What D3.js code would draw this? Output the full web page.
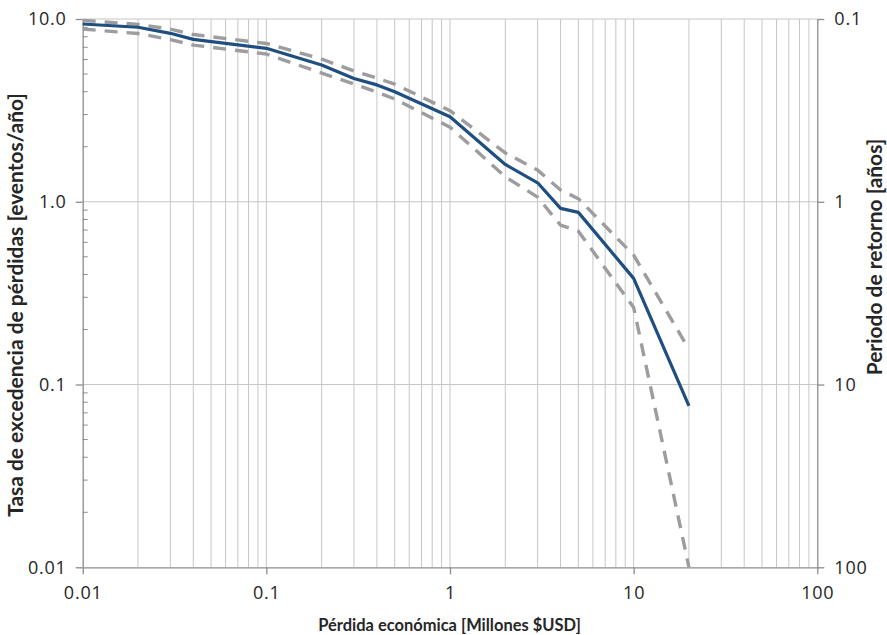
<!DOCTYPE html>
<html>
<head>
<meta charset="utf-8">
<script src="https://cdn.jsdelivr.net/npm/d3@7"></script>
<style>
  body { margin: 0; background: #ffffff; }
  .tick-label { font-family: "Open Sans", sans-serif; font-size: 18px; letter-spacing: 0.8px; fill: #262626; }
  .axis-title { font-family: Lato, "Open Sans", sans-serif; font-weight: bold; fill: #262626; }
</style>
</head>
<body>
<svg id="chart" width="887" height="635"></svg>
<script>
// Economic loss [millions USD]
const losses = [0.01, 0.02, 0.03, 0.04, 0.1, 0.2, 0.3, 0.4, 0.5, 1, 2, 3, 4, 5, 10, 20];
// Loss exceedance rate [events/year]: expected curve and its bounds
const rateMean  = [9.39, 9.01, 8.35, 7.74, 6.91, 5.60, 4.73, 4.36, 4.00, 2.92, 1.60, 1.27, 0.92, 0.875, 0.381, 0.0764];
const rateUpper = [9.83, 9.35, 8.81, 8.22, 7.35, 6.04, 5.19, 4.75, 4.40, 3.15, 1.85, 1.49, 1.16, 1.04, 0.51, 0.156];
const rateLower = [8.81, 8.33, 7.72, 7.20, 6.43, 5.06, 4.41, 3.98, 3.65, 2.56, 1.37, 1.06, 0.745, 0.69, 0.264, 0.01];

const xTicks = [0.01, 0.1, 1, 10, 100];
const xTickLabels = ["0.01", "0.1", "1", "10", "100"];
const yTicks = [0.01, 0.1, 1, 10];
const yTickLabels = ["0.01", "0.1", "1.0", "10.0"];
const periodTicks = [0.1, 1, 10, 100];
const periodTickLabels = ["0.1", "1", "10", "100"];

const xTitle = "Pérdida económica [Millones $USD]";
const yTitle = "Tasa de excedencia de pérdidas [eventos/año]";
const y2Title = "Periodo de retorno [años]";

const svg = d3.select("#chart");
const plotLeft = 82.7, plotRight = 817.3, plotTop = 19, plotBottom = 567.3;

const x = d3.scaleLog().domain([0.01, 100]).range([plotLeft, plotRight]);
const y = d3.scaleLog().domain([0.01, 10]).range([plotBottom, plotTop]);
// return period = 1 / rate
const yPeriod = d3.scaleLog().domain([100, 0.1]).range([plotBottom, plotTop]);

const gridColor = "#c6c6c6";
const axisColor = "#8c8c8c";

// vertical grid lines at every log step
svg.append("g").selectAll("line")
  .data(x.ticks().filter(v => v > 0.01 && v < 100))
  .join("line")
  .attr("x1", d => x(d)).attr("x2", d => x(d))
  .attr("y1", plotTop).attr("y2", plotBottom)
  .attr("stroke", gridColor).attr("stroke-width", 1);

// horizontal grid lines at decades
svg.append("g").selectAll("line")
  .data(yTicks.filter(v => v > 0.01))
  .join("line")
  .attr("x1", plotLeft).attr("x2", plotRight)
  .attr("y1", d => y(d)).attr("y2", d => y(d))
  .attr("stroke", gridColor).attr("stroke-width", 1);

// bottom axis
const xAxis = svg.append("g")
  .attr("transform", `translate(0,${plotBottom})`)
  .call(d3.axisBottom(x).tickValues(xTicks).tickFormat((d, i) => xTickLabels[i]).tickSize(7).tickSizeOuter(0).tickPadding(12));

// left axis with inward minor ticks
const yAxis = svg.append("g")
  .attr("transform", `translate(${plotLeft},0)`)
  .call(d3.axisLeft(y).tickValues(yTicks).tickFormat((d, i) => yTickLabels[i]).tickSize(7).tickSizeOuter(0).tickPadding(9));

svg.append("g").selectAll("line")
  .data(y.ticks().filter(v => !yTicks.includes(v)))
  .join("line")
  .attr("x1", plotLeft).attr("x2", plotLeft + 5)
  .attr("y1", d => y(d)).attr("y2", d => y(d))
  .attr("stroke", axisColor).attr("stroke-width", 1);

// right axis: return period
const y2Axis = svg.append("g")
  .attr("transform", `translate(${plotRight},0)`)
  .call(d3.axisRight(yPeriod).tickValues(periodTicks).tickFormat((d, i) => periodTickLabels[i]).tickSize(7).tickSizeOuter(0).tickPadding(10));

[xAxis, yAxis, y2Axis].forEach(g => {
  g.attr("font-size", null).attr("font-family", null);
  g.select(".domain").attr("stroke", axisColor).attr("stroke-width", 1.3);
  g.selectAll(".tick line").attr("stroke", axisColor).attr("stroke-width", 1.3);
  g.selectAll(".tick text").attr("class", "tick-label");
});

// curves
const line = d3.line()
  .x(d => x(d[0]))
  .y(d => y(d[1]));

const series = [
  { values: rateUpper, color: "#9d9d9f", width: 3.4, dash: "13 9" },
  { values: rateLower, color: "#9d9d9f", width: 3.4, dash: "13 9" },
  { values: rateMean,  color: "#1f4e80", width: 3.2, dash: null }
];

svg.append("g").selectAll("path")
  .data(series)
  .join("path")
  .attr("d", s => line(losses.map((v, i) => [v, s.values[i]])))
  .attr("fill", "none")
  .attr("stroke", s => s.color)
  .attr("stroke-width", s => s.width)
  .attr("stroke-dasharray", s => s.dash)
  .attr("stroke-linejoin", "round");

// axis titles, each sized to span its given length
function title(text, transform, span) {
  const t = svg.append("text").attr("class", "axis-title")
    .attr("transform", transform)
    .attr("text-anchor", "middle")
    .attr("font-size", 16)
    .text(text);
  const w = t.node().getComputedTextLength();
  t.attr("font-size", 16 * span / w);
  return t;
}

title(xTitle, "translate(449.5,630.5)", 263);
title(yTitle, "translate(22.5,305) rotate(-90)", 424);
const yTitleSize = +svg.selectAll(".axis-title").filter((d, i) => i === 1).attr("font-size");
svg.append("text").attr("class", "axis-title")
  .attr("transform", "translate(882,257) rotate(-90)")
  .attr("text-anchor", "middle")
  .attr("font-size", yTitleSize)
  .text(y2Title);
</script>
</body>
</html>
